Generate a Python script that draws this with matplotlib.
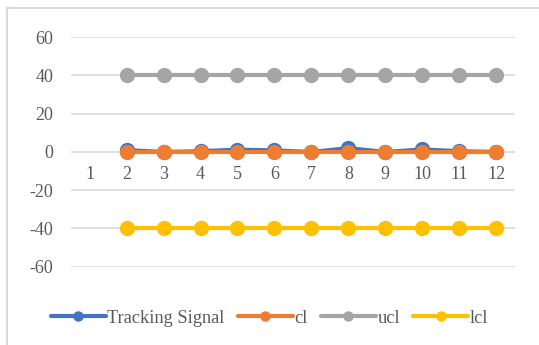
import numpy as np
import matplotlib.pyplot as plt
from matplotlib.lines import Line2D

periods = list(range(1, 13))
tracking_signal = [np.nan, 1.0, 0.0, 0.4, 1.2, 0.8, 0.0, 2.0, 0.0, 1.3, 0.4, 0.0]
cl = [np.nan] + [0] * 11
ucl = [np.nan] + [40] * 11
lcl = [np.nan] + [-40] * 11

series = [
    ('Tracking Signal', tracking_signal, '#4472C4'),
    ('cl', cl, '#ED7D31'),
    ('ucl', ucl, '#A5A5A5'),
    ('lcl', lcl, '#FFC000'),
]

plt.rcParams['font.family'] = 'Liberation Serif'
plt.rcParams['axes.unicode_minus'] = False
text_color = '#595959'

fig = plt.figure(figsize=(5.39, 3.45), dpi=100)
ax = fig.add_axes([0.132, 0.227, 0.823, 0.665])

for name, vals, color in series:
    ax.plot(periods, vals, color=color, lw=3, marker='o', ms=10, label=name,
            solid_capstyle='round', zorder=3)

ax.set_xlim(0.5, 12.5)
ax.set_ylim(-60, 60)
ax.set_yticks(range(-60, 61, 20))
ax.yaxis.grid(True, color='#D9D9D9', lw=1.2)
ax.set_axisbelow(True)
for s in ax.spines.values():
    s.set_visible(False)

# category labels sit just under the zero line
ax.spines['bottom'].set_position(('data', 0))
ax.set_xticks(periods)
ax.tick_params(axis='x', length=0, pad=10, labelsize=13, labelcolor=text_color)
ax.tick_params(axis='y', length=0, pad=13, labelsize=13, labelcolor=text_color)

ax.legend(loc='center', bbox_to_anchor=(0.5, 0.078), bbox_transform=fig.transFigure,
          ncol=4, frameon=False, fontsize=13.2, handlelength=3.0, handletextpad=0.1,
          columnspacing=0.7, markerscale=0.65, labelcolor=text_color)

# chart frame
fig.add_artist(Line2D([0.013, 1.0], [0.977, 0.977], color='#D9D9D9', lw=1.5))
fig.add_artist(Line2D([0.013, 0.013], [0.0, 0.977], color='#D9D9D9', lw=1.5))

fig.savefig('out.png', dpi=100)
